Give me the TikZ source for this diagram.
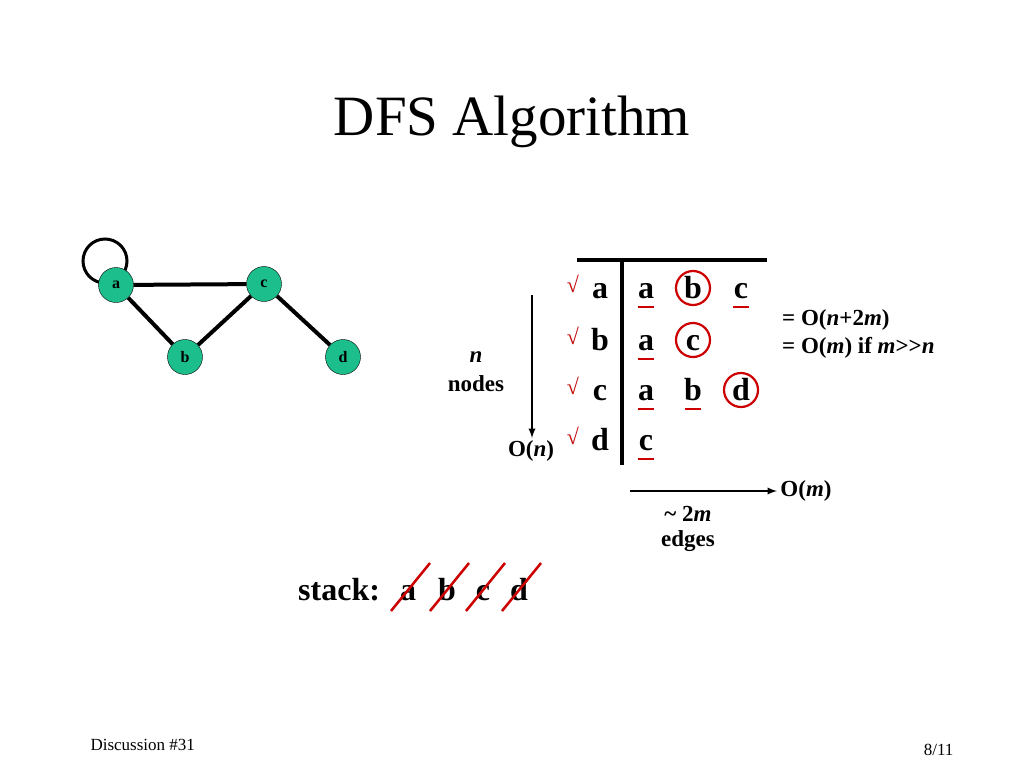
\documentclass[tikz,border=0pt]{standalone}
\usepackage{fontspec}
\setmainfont{Liberation Serif}
\definecolor{vfill}{RGB}{28,190,140}
\begin{document}
\begin{tikzpicture}[x=1pt,y=-1pt,
  vtx/.style={circle,draw=black,fill=vfill,minimum size=35pt,inner sep=0pt,font=\fontsize{16}{16}\selectfont\bfseries},
  edge/.style={line width=4pt},
  big/.style={font=\fontsize{32}{32}\selectfont\bfseries,inner sep=0pt,anchor=base},
  med/.style={font=\fontsize{23}{24}\selectfont\bfseries,inner sep=0pt},
  chk/.style={font=\fontsize{22}{22}\selectfont,text=red!75!black,inner sep=0pt,anchor=base},
  ul/.style={draw=red!80!black,line width=2.5pt},
  circ/.style={draw=red!80!black,line width=2.2pt,circle,minimum size=34pt,inner sep=0pt},
  slash/.style={draw=red!80!black,line width=2.5pt}]
\useasboundingbox (0,0) rectangle (1024,768);
\node[font=\fontsize{57}{57}\selectfont] (title) at (512,122) {DFS Algorithm};
% graph
\draw[line width=3pt] (105,261) circle (22);
\node[vtx] (a) at (116,285) {a};
\node[vtx] (c) at (264,284) {c};
\node[vtx] (b) at (185,357) {b};
\node[vtx] (d) at (343,357) {d};
\draw[edge] (a) -- (c);
\draw[edge] (a) -- (b);
\draw[edge] (b) -- (c);
\draw[edge] (c) -- (d);
% table
\coordinate (h1) at (577,260); \coordinate (h2) at (767,260);
\coordinate (v1) at (622,260); \coordinate (v2) at (622,465);
\draw[line width=3.5pt] (h1) -- (h2);
\draw[line width=3.5pt] (v1) -- (v2);
\foreach \l/\y in {a/298,b/350,c/400,d/450}{
  \node[chk] at (573,\y-6) {√};
  \node[big] at (600,\y) {\l};
}
\foreach \l/\x/\y in {a/646/298,b/693/298,c/741/298,a/646/350,c/693/350,a/646/400,b/693/400,d/741/400,c/646/450}{
  \node[big] at (\x,\y) {\l};
}
\foreach \x/\y in {646/307,741/307,646/359,646/409,693/409,646/459}{
  \draw[ul] (\x-8,\y) -- (\x+8,\y);
}
\node[circ] (cb) at (693,288) {};
\node[circ] (cc) at (693,340) {};
\node[circ] (cd) at (741,390) {};
% arrows
\coordinate (va) at (532,295); \coordinate (vb) at (532,438);
\draw[line width=2.2pt,-latex] (va) -- (vb);
\node[med,font=\fontsize{23}{24}\selectfont\bfseries\itshape] (nn) at (476,357) {n};
\node[med] (nodes) at (476,384) {nodes};
\node[med] (on) at (531,451) {O(\textit{n})};
\coordinate (ha) at (630,491); \coordinate (hb) at (777,491);
\draw[line width=2.2pt,-latex] (ha) -- (hb);
\node[med] (om) at (806,491) {O(\textit{m})};
\node[med] (tm) at (688,514) {\textasciitilde{} 2\textit{m}};
\node[med] (edges) at (688,541) {edges};
\node[med,anchor=west] (e1) at (782,320) {= O(\textit{n}+2\textit{m})};
\node[med,anchor=west] (e2) at (782,348) {= O(\textit{m}) if \textit{m}{>}{>}\textit{n}};
% stack
\node[big,anchor=base west] (st) at (298,600) {stack:};
\foreach \l/\x in {a/408,b/447,c/483,d/519}{
  \node[big] at (\x,600) {\l};
  \draw[slash] (\x-17,611) -- (\x+22,563);
}
% footer
\node[font=\fontsize{17}{17}\selectfont,anchor=west] (f1) at (87,745) {Discussion \#31};
\node[font=\fontsize{17}{17}\selectfont,anchor=east] (f2) at (957,750) {8/11};
\end{tikzpicture}
\end{document}
